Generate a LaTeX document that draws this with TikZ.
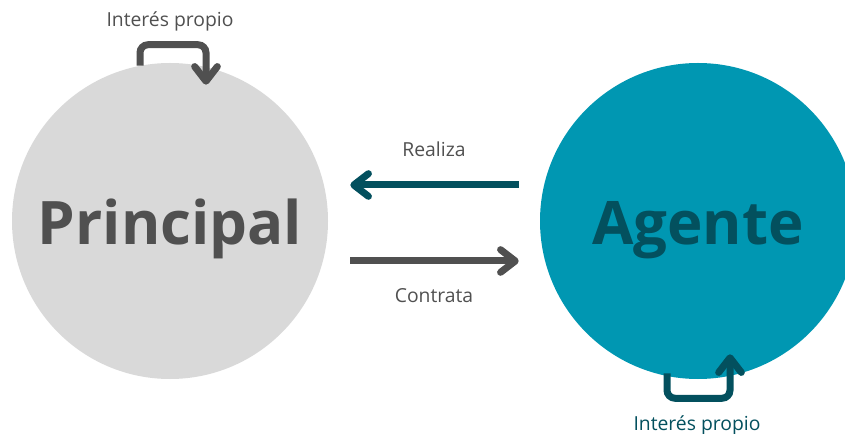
\documentclass[tikz,border=0pt]{standalone}
\usepackage{fontspec}
\setmainfont{Open Sans}
\usetikzlibrary{calc,arrows.meta}
\definecolor{circgris}{HTML}{D9D9D9}
\definecolor{textgris}{HTML}{505050}
\definecolor{circazul}{HTML}{0097B2}
\definecolor{azuloscuro}{HTML}{03505E}
\tikzset{
  circulo/.style={circle,minimum size=237pt,inner sep=0pt},
  titulo/.style={font=\fontsize{45}{45}\selectfont\bfseries,anchor=base},
  etiqueta/.style={font=\fontsize{14.5}{15}\selectfont,anchor=base},
  flecha/.style={line width=5.25pt,-{Straight Barb[length=11pt,width=17pt,round]}},
  bucle/.style={flecha,rounded corners=6pt},
}

\begin{document}
\begin{tikzpicture}[x=0.75pt,y=-0.75pt]
  \useasboundingbox (0,0) rectangle (845,434);
  \clip (0,0) rectangle (845,434);
  % the two parties
  \node[circulo,fill=circgris] (principal) at (170,221) {};
  \node[circulo,fill=circazul] (agente) at (698,221) {};
  \node[titulo,text=textgris] (txtprincipal) at (170,245) {Principal};
  \node[titulo,text=azuloscuro] (txtagente) at (698,245) {Agente};
  % relations between them
  \draw[flecha,azuloscuro] ($(agente.west)+(-21,-36)$) -- ($(principal.east)+(22,-36)$);
  \draw[flecha,textgris] ($(principal.east)+(22,40)$) -- ($(agente.west)+(-21,40)$);
  \node[etiqueta,text=textgris] (realiza) at (434,157) {Realiza};
  \node[etiqueta,text=textgris] (contrata) at (434,303) {Contrata};
  % self-interest loops
  \draw[bucle,textgris] ($(principal.north)+(-30,3)$) -- ++(0,-21) -| ($(principal.north)+(36,22)$);
  \draw[bucle,azuloscuro] ($(agente.south)+(-31,-6)$) -- ++(0,25) -| ($(agente.south)+(32,-25)$);
  \node[etiqueta,text=textgris] (interesp) at (170,27) {Interés propio};
  \node[etiqueta,text=azuloscuro] (interesa) at (697,430) {Interés propio};
\end{tikzpicture}
\end{document}
